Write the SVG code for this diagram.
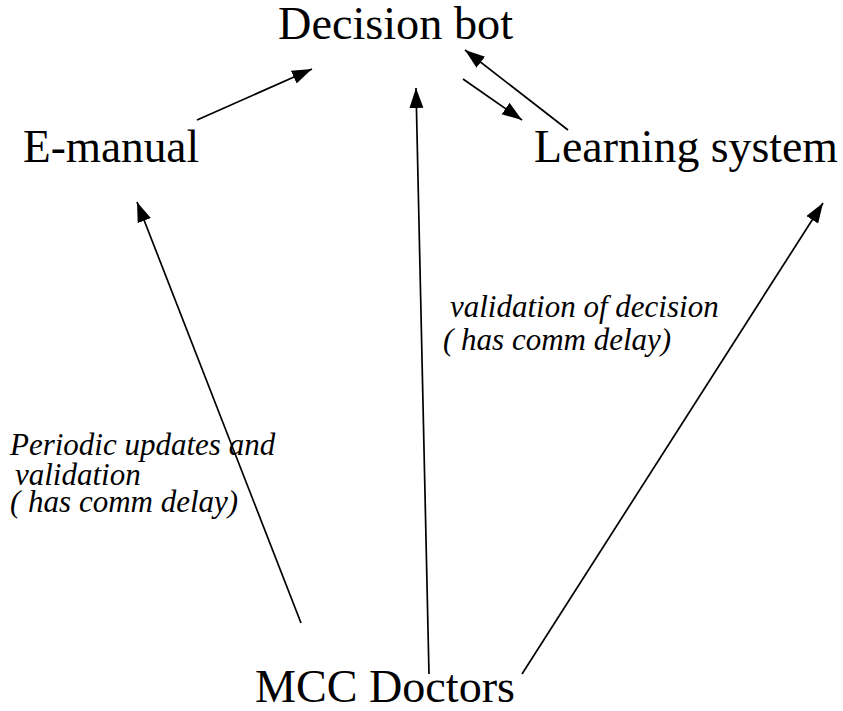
<svg xmlns="http://www.w3.org/2000/svg" width="843" height="711" viewBox="0 0 843 711">
<defs>
<style>
.node{font-family:"Liberation Serif","Times New Roman",serif;font-size:46px;fill:#000}
.lbl{font-family:"Liberation Serif","Times New Roman",serif;font-size:31px;font-style:italic;fill:#000}
.conn{stroke:#000;stroke-width:1.7;fill:none;marker-end:url(#ah)}
</style>
<marker id="ah" markerUnits="userSpaceOnUse" markerWidth="22" markerHeight="16" refX="20" refY="7" orient="auto">
<path d="M0,0 L20,7 L0,14 z" fill="#000"/>
</marker>
</defs>
<rect width="843" height="711" fill="#fff"/>
<g id="connectors">
<line class="conn" x1="197" y1="120" x2="312" y2="69"/>
<line class="conn" x1="429" y1="674" x2="416" y2="88"/>
<line class="conn" x1="463" y1="79" x2="522" y2="120"/>
<line class="conn" x1="568" y1="130" x2="465" y2="50"/>
<line class="conn" x1="301" y1="623" x2="137" y2="202"/>
<line class="conn" x1="522" y1="674" x2="823" y2="203"/>
</g>
<g id="decision-bot"><text class="node" x="278" y="39" textLength="235" lengthAdjust="spacingAndGlyphs">Decision bot</text></g>
<g id="e-manual"><text class="node" x="23" y="162" textLength="176" lengthAdjust="spacingAndGlyphs">E-manual</text></g>
<g id="learning-system"><text class="node" x="534" y="162" textLength="304" lengthAdjust="spacingAndGlyphs">Learning system</text></g>
<g id="mcc-doctors"><text class="node" x="255" y="702" textLength="260" lengthAdjust="spacingAndGlyphs">MCC Doctors</text></g>
<g id="label-left">
<text class="lbl" x="10" y="455">Periodic updates and</text>
<text class="lbl" x="15" y="485">validation</text>
<text class="lbl" x="10" y="512">( has comm delay)</text>
</g>
<g id="label-middle">
<text class="lbl" x="450" y="317">validation of decision</text>
<text class="lbl" x="443" y="350">( has comm delay)</text>
</g>
</svg>
